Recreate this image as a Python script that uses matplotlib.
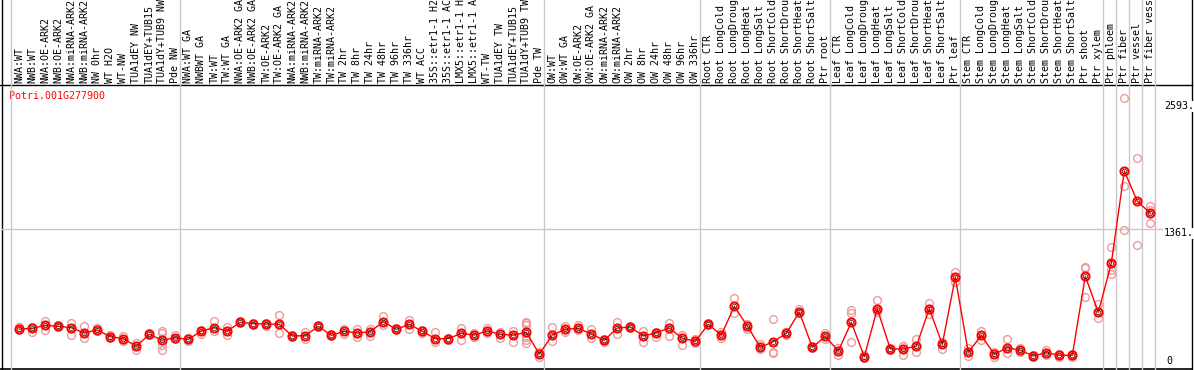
import matplotlib
matplotlib.use("Agg")
import matplotlib.pyplot as plt
import matplotlib.transforms as mtransforms

gene = "Potri.001G277900"

labels = [
    "NWA:WT", "NWB:WT", "NWA:OE-ARK2", "NWB:OE-ARK2", "NWA:miRNA-ARK2", "NWB:miRNA-ARK2",
    "NW 0hr", "WT H2O", "WT-NW", "TUA1dEY NW", "TUA1dEY+TUB15", "TUA1dY+TUB9 NW", "Pde NW",
    "NWA:WT GA", "NWBWT GA", "TW:WT", "TW:WT GA", "NWA:OE-ARK2 GA", "NWB:OE-ARK2 GA",
    "TW:OE-ARK2", "TW:OE-ARK2 GA", "NWA:miRNA-ARK2", "NWB:miRNA-ARK2", "TW:miRNA-ARK2",
    "TW:miRNA-ARK2", "TW 2hr", "TW 8hr", "TW 24hr", "TW 48hr", "TW 96hr", "TW 336hr",
    "WT ACC", "35S::etr1-1 H2", "35S::etr1-1 AC", "LMX5::etr1-1 H", "LMX5::etr1-1 A",
    "WT-TW", "TUA1dEY TW", "TUA1dEY+TUB15", "TUA1dY+TUB9 TW", "Pde TW",
    "OW:WT", "OW:WT GA", "OW:OE-ARK2", "OW:OE-ARK2 GA", "OW:miRNA-ARK2", "OW:miRNA-ARK2",
    "OW 2hr", "OW 8hr", "OW 24hr", "OW 48hr", "OW 96hr", "OW 336hr",
    "Root CTR", "Root LongCold", "Root LongDroug", "Root LongHeat", "Root LongSalt",
    "Root ShortCold", "Root ShortDrou", "Root ShortHeat", "Root ShortSalt", "Ptr root",
    "Leaf CTR", "Leaf LongCold", "Leaf LongDroug", "Leaf LongHeat", "Leaf LongSalt",
    "Leaf ShortCold", "Leaf ShortDrou", "Leaf ShortHeat", "Leaf ShortSalt", "Ptr leaf",
    "Stem CTR", "Stem LongCold", "Stem LongDroug", "Stem LongHeat", "Stem LongSalt",
    "Stem ShortCold", "Stem ShortDrou", "Stem ShortHeat", "Stem ShortSalt",
    "Ptr shoot", "Ptr xylem", "Ptr phloem", "Ptr fiber", "Ptr vessel", "Ptr fiber vess",
]

# index of first column of each group (separators drawn before these, plus the end)
group_starts = [0, 13, 41, 53, 63, 73, 84, 85, 86, 87, 88]

means = [
    387, 394, 423, 413, 400, 349, 378, 313, 294, 220, 336, 278, 303,
    287, 368, 400, 368, 452, 439, 436, 433, 320, 323, 413, 326, 365, 349, 362, 458,
    384, 433, 365, 294, 294, 345, 329, 368, 336, 329, 355, 145,
    329, 384, 394, 339, 278, 397, 407, 320, 352, 397, 297, 268,
    433, 329, 607, 417, 210, 265, 345, 552, 210, 316,
    174, 452, 119, 584, 194, 194, 220, 584, 239, 888,
    162, 326, 142, 207, 181, 126, 158, 133, 133, 898, 549,
    1024, 1918, 1624, 1511,
]

replicates = [
    [410, 378], [404, 362], [462, 378], [423, 404], [449, 326], [417, 303], [400, 368],
    [326, 303], [323, 275], [252, 181], [346, 329], [371, 346, 229, 181], [326, 287],
    [300, 271], [339, 378], [462, 371], [410, 333], [462, 442], [449, 429], [449, 420],
    [520, 349], [329, 307], [355, 287], [423, 404], [336, 316], [384, 336], [391, 307],
    [391, 323], [513, 426], [394, 375], [475, 384], [378, 346], [355, 265], [303, 284],
    [400, 281], [352, 313], [394, 352], [362, 300], [371, 265],
    [458, 442, 426, 313, 281, 249], [168, 116],
    [410, 271], [420, 362], [426, 378], [384, 297], [287, 265], [458, 339], [417, 397],
    [371, 262], [362, 313], [449, 320], [329, 235], [291, 255],
    [442, 423], [362, 297], [685, 546], [436, 384], [239, 197], [481, 168, 152],
    [362, 329], [578, 539], [223, 200], [352, 287],
    [200, 139], [571, 539, 258], [132, 110], [668, 555], [207, 181], [226, 136],
    [291, 162], [636, 529], [265, 197], [937, 846],
    [200, 129], [371, 281], [168, 113], [291, 152], [200, 168], [139, 113], [184, 136],
    [145, 119], [145, 119], [991, 975, 700], [630, 497],
    [1179, 959, 917], [2622, 1776, 1343], [2041, 1201], [1579, 1540, 1417],
]

axis_labels = ["2593.", "1361.", "0"]
axis_values = [2593, 1361, 0]
grid_value = 1361

RED = "#ff0000"
PINK = "#eb9c9c"
GRAY = "#c8c8c8"
FONT = "DejaVu Sans Mono"
FS = 7.2

W, H = 1194, 370
fig = plt.figure(figsize=(W / 100, H / 100), dpi=100)

# background axes in pixel units for frame lines and title
bg = fig.add_axes([0, 0, 1, 1])
bg.set_xlim(0, W)
bg.set_ylim(H, 0)
bg.axis("off")

# data axes
x0px, colw = 19.3, 13.0
left_px, right_px, top_px, bot_px = 2, 1192, 85, 369
px_per_unit = (369 - 228.5) / 1361.0
ax = fig.add_axes([left_px / W, (H - bot_px) / H, (right_px - left_px) / W, (bot_px - top_px) / H])
ax.set_xlim((left_px - x0px) / colw, (right_px - x0px) / colw)
ax.set_ylim(0, (bot_px - top_px) / px_per_unit)
ax.axis("off")
ax.patch.set_alpha(0)

n = len(labels)
xs = list(range(n))

# separators
hdr_frac = 1 + (top_px) / (bot_px - top_px)
for g in group_starts:
    ax.axvline(g - 0.64, ymin=0, ymax=hdr_frac, color=GRAY, lw=1.0, clip_on=False, zorder=1)
ax.axhline(grid_value, color=GRAY, lw=1.0, zorder=1)

# frame lines
bg.plot([0, right_px], [top_px, top_px], color="black", lw=1.0)
bg.plot([0, right_px], [bot_px, bot_px], color="black", lw=1.2)
bg.plot([left_px, left_px], [0, bot_px], color="black", lw=1.0)
bg.plot([right_px, right_px], [0, bot_px], color="black", lw=1.0)

# header labels
trans = mtransforms.blended_transform_factory(ax.transData, ax.transAxes)
for i, lab in enumerate(labels):
    ax.text(i, 1 + 2.0 / (bot_px - top_px), lab, transform=trans, rotation=90,
            ha="center", va="bottom", fontsize=FS, family=FONT, color="black",
            clip_on=False)

# replicates
for i, reps in enumerate(replicates):
    ax.plot([i] * len(reps), reps, linestyle="none", marker="o", markersize=5.6,
            markerfacecolor="none", markeredgecolor=PINK, markeredgewidth=1.0, zorder=3)

# mean line and markers
ax.plot(xs, means, color=RED, lw=1.0, zorder=4)
ax.plot(xs, means, linestyle="none", marker="o", markersize=5.8, markerfacecolor="none",
        markeredgecolor=RED, markeredgewidth=1.5, zorder=5)
ax.plot(xs, means, linestyle="none", marker="o", markersize=3.2, markerfacecolor="none",
        markeredgecolor="#200000", markeredgewidth=0.45, zorder=6)

# right axis labels
lx = (1164 - x0px) / colw
for lab, v in zip(axis_labels, axis_values):
    if v == 0:
        ax.text(lx + 0.2, v + 25, lab, ha="left", va="bottom", fontsize=FS, family=FONT,
                color="black", zorder=7)
    else:
        ax.text(lx, v, lab, ha="left", va="top", fontsize=FS, family=FONT, color="black",
                zorder=7, bbox=dict(facecolor="white", edgecolor="none", pad=0.6))

# gene name
bg.text(9, 96, gene, ha="left", va="center", fontsize=FS, family=FONT, color=RED)

fig.savefig("out.png", dpi=100)
